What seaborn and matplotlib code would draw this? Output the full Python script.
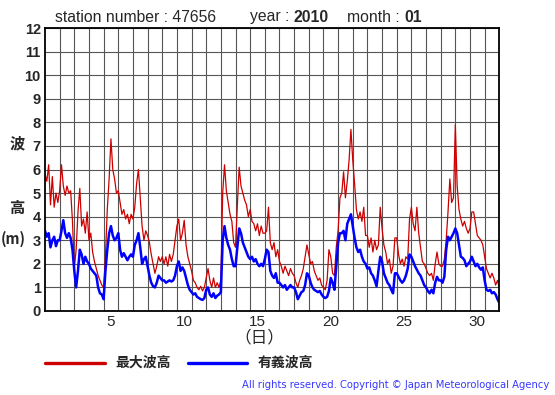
import numpy as np
import pandas as pd
import matplotlib
matplotlib.use("Agg")
import matplotlib.pyplot as plt
from matplotlib.lines import Line2D
import seaborn as sns

# 3-hourly readings, one row per day (1..31), plus the closing value
max_wave = [
    5.8, 5.5, 6.2, 4.5, 5.7, 4.4, 5.0, 4.6,
    5.1, 6.2, 5.3, 4.9, 5.3, 5.0, 5.1, 3.8,
    1.8, 2.6, 4.2, 5.2, 3.6, 3.9, 3.3, 4.2,
    3.0, 3.3, 2.5, 2.1, 1.8, 1.5, 1.3, 1.1,
    1.0, 2.3, 4.3, 5.6, 7.3, 6.0, 5.6, 5.0,
    5.1, 4.6, 4.1, 4.3, 3.9, 4.1, 3.7, 4.1,
    3.9, 4.4, 5.4, 6.0, 4.8, 3.6, 3.0, 3.4,
    3.2, 2.9, 2.4, 2.0, 1.6, 1.9, 2.3, 2.1,
    2.3, 2.0, 2.3, 1.9, 2.4, 2.1, 2.4, 3.0,
    3.6, 3.9, 3.0, 3.3, 3.85, 2.8, 2.3, 2.0,
    1.7, 1.3, 1.2, 1.0, 0.9, 1.05, 0.85, 1.0,
    1.4, 1.8, 1.3, 1.0, 1.4, 1.0, 1.2, 1.0,
    1.3, 5.0, 6.2, 5.1, 4.6, 4.1, 3.8, 2.9,
    2.7, 4.5, 6.1, 5.3, 5.0, 4.7, 4.5, 4.0,
    4.3, 3.8, 3.7, 3.4, 3.7, 3.2, 3.6, 3.3,
    3.3, 3.4, 4.4, 2.9, 2.6, 2.9, 2.3, 2.6,
    2.1, 1.9, 1.6, 1.9, 1.7, 1.5, 1.8, 1.6,
    1.5, 1.2, 1.0, 1.3, 1.5, 1.8, 2.3, 2.8,
    2.4, 2.0, 2.1, 1.7, 1.5, 1.3, 1.4, 1.1,
    1.0, 0.9, 1.3, 2.6, 2.3, 1.6, 1.5, 2.7,
    3.4, 4.8, 5.0, 5.9, 4.8, 5.5, 6.4, 7.7,
    6.4, 5.4, 4.3, 3.9, 4.2, 3.8, 4.4, 3.2,
    3.2, 2.7, 3.1, 2.5, 3.0, 2.6, 2.8, 4.4,
    3.5, 2.8, 2.5, 2.0, 2.2, 1.6, 1.9, 3.1,
    3.1, 2.4, 2.0, 2.2, 1.9, 2.3, 2.2, 3.9,
    4.4, 3.7, 3.4, 4.4, 3.3, 2.7, 2.1, 2.0,
    1.8, 1.6, 1.5, 1.6, 1.3, 2.0, 2.5, 2.0,
    1.9, 1.9, 2.2, 3.0, 4.2, 5.6, 4.6, 4.8,
    7.9, 5.3, 4.3, 3.9, 3.6, 3.8, 3.5, 3.3,
    3.5, 4.2, 4.2, 3.7, 3.2, 3.1, 3.0, 2.8,
    2.3, 1.8, 1.6, 1.4, 1.6, 1.4, 1.1, 1.3,
    1.0,
]

sig_wave = [
    3.4, 3.15, 3.3, 2.7, 3.0, 3.15, 2.75, 3.0,
    3.0, 3.4, 3.85, 3.3, 3.1, 3.3, 3.1, 2.6,
    1.7, 1.0, 1.7, 2.6, 2.4, 2.0, 2.3, 2.1,
    2.0, 1.8, 1.7, 1.6, 1.5, 1.0, 0.75, 0.7,
    0.5, 1.7, 2.6, 3.3, 3.6, 3.2, 3.0, 3.1,
    3.3, 2.6, 2.3, 2.45, 2.3, 2.15, 2.3, 2.4,
    2.3, 2.8, 3.0, 3.3, 2.7, 2.0, 2.2, 2.3,
    1.9, 1.5, 1.2, 1.05, 1.0, 1.2, 1.5, 1.4,
    1.3, 1.3, 1.2, 1.25, 1.3, 1.25, 1.3, 1.5,
    1.9, 2.1, 1.7, 1.85, 1.7, 1.4, 1.1, 0.9,
    0.8, 0.7, 0.75, 0.6, 0.55, 0.5, 0.47, 0.55,
    0.9, 1.0, 0.7, 0.6, 0.75, 0.55, 0.65, 0.7,
    0.8, 3.0, 3.6, 3.1, 2.8, 2.6, 2.2, 1.9,
    1.9, 2.7, 3.5, 3.3, 2.9, 2.7, 2.5, 2.3,
    2.2, 2.3, 2.1, 2.2, 2.0, 1.9, 2.0, 1.9,
    2.2, 2.6, 2.5, 1.7, 1.5, 1.4, 1.6, 1.2,
    1.2, 1.1, 1.0, 1.1, 0.9, 1.0, 1.1, 1.0,
    1.0, 0.8, 0.5, 0.65, 0.8, 0.85, 1.1, 1.6,
    1.5, 1.2, 1.0, 0.9, 0.85, 0.8, 0.85, 0.7,
    0.6, 0.55, 0.6, 0.85, 1.4, 1.2, 0.9, 1.9,
    2.9, 3.3, 3.3, 3.4, 3.0, 3.7, 3.9, 4.1,
    3.6, 3.1, 2.7, 2.5, 2.6, 2.3, 2.1, 2.0,
    1.8, 1.85, 1.6, 1.5, 1.3, 1.05, 1.7, 2.3,
    2.1, 1.6, 1.4, 1.2, 1.1, 0.9, 0.75, 1.6,
    1.6, 1.45, 1.3, 1.2, 1.3, 1.5, 1.8, 2.4,
    2.3, 2.1, 1.9, 1.75, 1.6, 1.5, 1.3, 1.1,
    1.0, 0.85, 0.75, 0.9, 0.75, 1.2, 1.45, 1.3,
    1.3, 1.2, 1.45, 2.6, 3.15, 3.0, 3.15, 3.3,
    3.5, 3.3, 2.8, 2.3, 2.25, 2.15, 1.9, 2.0,
    2.1, 2.3, 2.1, 1.9, 2.0, 1.85, 1.75, 1.85,
    1.3, 0.9, 0.85, 0.9, 0.75, 0.8, 0.7, 0.5,
    0.35,
]

day_ticks = [5, 10, 15, 20, 25, 30]
y_ticks = list(range(0, 13))

# time axis: day 1 00:00 .. day 32 00:00 in 3 hour steps
t = 1 + np.arange(len(max_wave)) / 8.0
df = pd.DataFrame({"t": t, "max": max_wave, "sig": sig_wave})

sns.set_style("white")
plt.rcParams["font.family"] = ["Liberation Sans", "DejaVu Sans"]
jp = ["Noto Sans CJK JP", "DejaVu Sans"]

W, H = 555, 395
fig = plt.figure(figsize=(W / 100, H / 100), dpi=100)
ax = fig.add_axes([45 / W, 1 - 311 / H, 454.3 / W, 283 / H])

sns.lineplot(data=df, x="t", y="max", color="#cc0000", linewidth=0.9, ax=ax)
sns.lineplot(data=df, x="t", y="sig", color="#0000ff", linewidth=1.8, ax=ax)

ax.set_xlim(1, 32)
ax.set_ylim(0, 12)
ax.set_xticks([d + 0.5 for d in day_ticks])
ax.set_xticklabels([str(d) for d in day_ticks], fontsize=11)
ax.set_xticks(np.arange(2, 32), minor=True)
ax.set_yticks(y_ticks)
ax.set_yticklabels([str(v) for v in y_ticks], fontsize=10.5, fontweight="bold")
ax.tick_params(axis="both", which="both", length=0)
ax.tick_params(axis="x", pad=3)
ax.tick_params(axis="y", pad=3)
ax.grid(False)
ax.grid(axis="x", which="minor", color="#555555", linewidth=0.8)
ax.grid(axis="y", which="major", color="#555555", linewidth=0.8)
ax.set_xlabel("")
ax.set_ylabel("")
for s in ax.spines.values():
    s.set_color("black")
    s.set_linewidth(1.3)


def ftext(x, y, s, **kw):
    fig.text(x / W, 1 - y / H, s, **kw)


# header
hdr = 11.3
ftext(55, 17, "station number : 47656", fontsize=hdr, va="center")
ftext(250, 17, "year : ", fontsize=hdr, va="center")
ftext(294, 17, "2010", fontsize=hdr, va="center", fontweight="bold")
ftext(347, 17, "month : ", fontsize=hdr, va="center")
ftext(404, 17, "01", fontsize=hdr, va="center", fontweight="bold")

# y label
ftext(17, 143, "波", fontsize=11, family=jp, fontweight="bold", ha="center", va="center")
ftext(17, 208, "高", fontsize=11, family=jp, fontweight="bold", ha="center", va="center")
ftext(13, 239, "(m)", fontsize=10.5, family=jp, fontweight="bold", ha="center", va="center")

# x label
ftext(259, 338, "（日）", fontsize=12, family=jp, ha="center", va="center")

# legend
fig.add_artist(Line2D([45 / W, 105 / W], [1 - 363 / H] * 2, color="#cc0000", linewidth=2.4))
ftext(115, 363, "最大波高", fontsize=10, family=jp, fontweight="bold", va="center")
fig.add_artist(Line2D([188 / W, 247 / W], [1 - 363 / H] * 2, color="#0000ff", linewidth=2.4))
ftext(258, 363, "有義波高", fontsize=10, family=jp, fontweight="bold", va="center")

ftext(549, 385, "All rights reserved. Copyright © Japan Meteorological Agency",
      fontsize=7.2, color="#3838ff", ha="right", va="center", family=["DejaVu Sans"])

fig.savefig("out.png", dpi=100)
